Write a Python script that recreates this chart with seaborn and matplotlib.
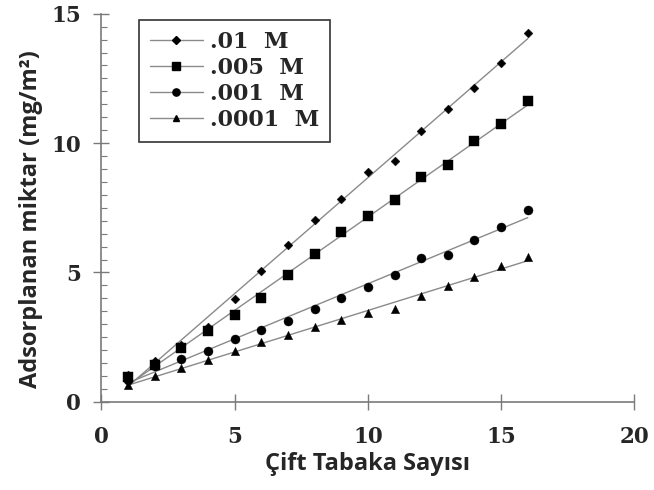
import numpy as np
import pandas as pd
import matplotlib
matplotlib.use("Agg")
import matplotlib.pyplot as plt
from matplotlib.lines import Line2D
from matplotlib.ticker import MultipleLocator
import seaborn as sns

# Number of double layers
layers = list(range(1, 17))

# Adsorbed amount (mg/m2) for each salt concentration
conc_labels = [".01  M", ".005  M", ".001  M", ".0001  M"]
ads_01 = [1.04, 1.56, 2.20, 2.89, 3.98, 5.04, 6.07, 7.01, 7.84, 8.89, 9.30, 10.46, 11.33, 12.11, 13.10, 14.26]
ads_005 = [0.96, 1.43, 2.08, 2.72, 3.34, 4.01, 4.89, 5.73, 6.55, 7.17, 7.81, 8.69, 9.14, 10.07, 10.75, 11.62]
ads_001 = [0.85, 1.37, 1.65, 1.95, 2.44, 2.79, 3.11, 3.59, 4.01, 4.44, 4.91, 5.56, 5.69, 6.27, 6.76, 7.40]
ads_0001 = [0.66, 0.98, 1.30, 1.60, 1.98, 2.33, 2.59, 2.89, 3.17, 3.45, 3.59, 4.10, 4.49, 4.82, 5.23, 5.60]

x_ticks = [0, 5, 10, 15, 20]
y_ticks = [0, 5, 10, 15]

series = [ads_01, ads_005, ads_001, ads_0001]
markers = ["D", "s", "o", "^"]
msizes = [4.5, 7, 6.5, 6]

sns.set_theme(style="white")
plt.rcParams["font.family"] = ["DejaVu Serif"]

fig = plt.figure(figsize=(6.54, 4.9), dpi=100)
ax = fig.add_axes([0.155, 0.180, 0.815, 0.792])

line_color = "#8a8a8a"
handles = []
for label, vals, mk, ms in zip(conc_labels, series, markers, msizes):
    df = pd.DataFrame({"layers": layers, "amount": vals})
    sns.regplot(data=df, x="layers", y="amount", ax=ax, ci=None, scatter=False,
                line_kws=dict(color=line_color, lw=1.0, zorder=2))
    sns.scatterplot(data=df, x="layers", y="amount", ax=ax, marker=mk, s=ms ** 2,
                    color="black", edgecolor="black", linewidth=0.3, zorder=3)
    handles.append(Line2D([0], [0], color=line_color, lw=1.0, marker=mk,
                          markersize=ms * 0.8, markerfacecolor="black",
                          markeredgecolor="black", label=label))

ax.set_xlim(0, 20)
ax.set_ylim(0, 15)
ax.set_xticks(x_ticks)
ax.set_yticks(y_ticks)
ax.yaxis.set_minor_locator(MultipleLocator(0.5))

for side in ["top", "right"]:
    ax.spines[side].set_visible(False)
for side in ["left", "bottom"]:
    ax.spines[side].set_color("#7a7a7a")
    ax.spines[side].set_linewidth(1.2)

ax.tick_params(axis="both", which="major", direction="inout", length=11, width=1.0,
               color="#7a7a7a", labelsize=15.5, left=True, bottom=True)
ax.tick_params(axis="y", which="minor", direction="in", length=4, width=0.8,
               color="#7a7a7a", left=True)
ax.tick_params(axis="x", which="major", pad=12)
ax.tick_params(axis="y", which="major", pad=9)
for lbl in ax.get_xticklabels() + ax.get_yticklabels():
    lbl.set_fontweight("bold")

ax.set_xlabel("Çift Tabaka Sayısı", family=["Open Sans", "DejaVu Sans"],
              fontweight="bold", fontsize=17, labelpad=3)
ax.set_ylabel("Adsorplanan miktar (mg/m²)", family=["Open Sans", "DejaVu Sans"],
              fontweight="bold", fontsize=17, labelpad=6)
ax.yaxis.label.set_y(0.47)

leg = ax.legend(handles=handles, loc="upper left", bbox_to_anchor=(0.07, 0.985),
                frameon=True, fancybox=False, edgecolor="black",
                prop=dict(family="DejaVu Serif", weight="bold", size=16),
                handlelength=2.4, handletextpad=0.3, labelspacing=0.18,
                borderpad=0.5, borderaxespad=0.0)
leg.get_frame().set_linewidth(1.2)

fig.savefig("out.png", dpi=100)
